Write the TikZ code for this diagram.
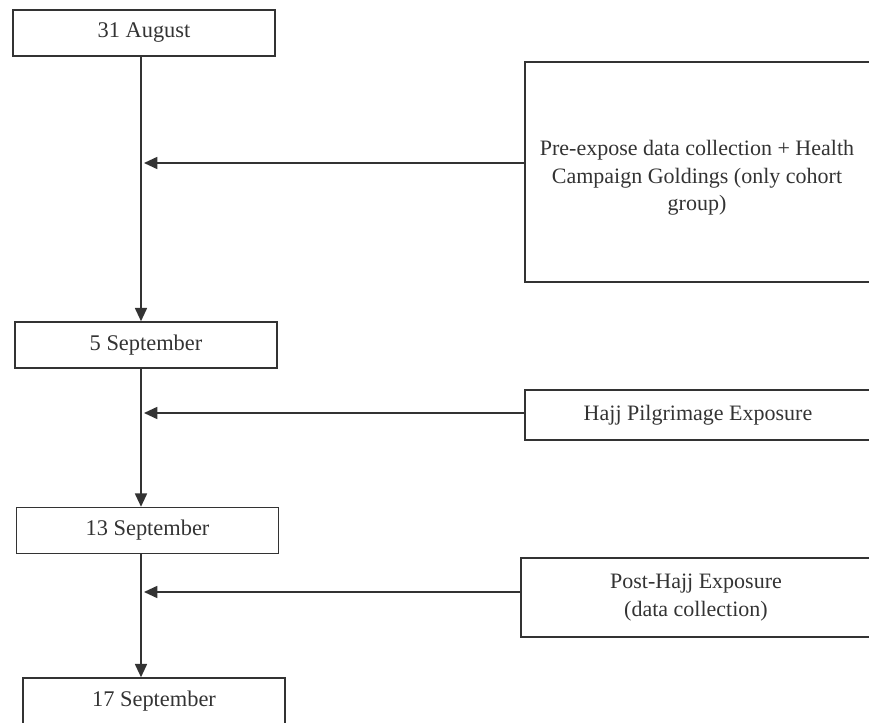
\documentclass[tikz,border=0pt]{standalone}
\usepackage{fontspec}
\usepackage{xcolor}
\usepackage{tikz}
\usetikzlibrary{arrows.meta}
\setmainfont{Liberation Serif}
\definecolor{scheme}{rgb}{0.2,0.2,0.2}

\begin{document}
\begin{tikzpicture}[x=0.75pt,y=-0.75pt,
		datebox/.style={draw=scheme,line width=1.1pt,minimum width=262*0.75pt,minimum height=46*0.75pt,inner sep=0pt,text=scheme,font=\fontsize{16.8}{20.6}\selectfont},
		eventbox/.style={draw=scheme,line width=1.1pt,inner sep=0pt,align=center,text=scheme,font=\fontsize{16.5}{20.6}\selectfont},
		flow/.style={draw=scheme,line width=1.3pt,-{Triangle[length=10pt,width=9pt]}}]
				\useasboundingbox (0,0) rectangle (869,723);
				\clip (0,0) rectangle (869,723);
				\coordinate (sp) at (141,0);%spine
				\coordinate (t1) at (144,163);
				\coordinate (t2) at (144,413);
				\coordinate (t3) at (144,592);
				\node[datebox] (d1) at (144,33) {31 August};
				\node[datebox] (d2) at (146,345) {5 September};
				\node[datebox] (d3) at (147.5,530.5) {13 September};
				\node[datebox] (d4) at (154,701) {17 September};
				\node[eventbox,minimum width=346*0.75pt,minimum height=220*0.75pt] (e1) at (698,172) {};
				\node[eventbox,draw=none] (e1t) at (697,178) {Pre-expose data collection + Health\\Campaign Goldings (only cohort\\group)};
				\node[eventbox,minimum width=346*0.75pt,minimum height=50*0.75pt] (e2) at (698,415) {Hajj Pilgrimage Exposure};
				\node[eventbox,minimum width=350*0.75pt,minimum height=79*0.75pt] (e3) at (696,597.5) {Post-Hajj Exposure\\(data collection)};
				
				\draw[flow] (d1.south -| sp) -- (d2.north -| sp);
				\draw[flow] (d2.south -| sp) -- (d3.north -| sp);
				\draw[flow] (d3.south -| sp) -- (d4.north -| sp);
				\draw[flow] (e1.west |- t1) -- (t1);
				\draw[flow] (e2.west |- t2) -- (t2);
				\draw[flow] (e3.west |- t3) -- (t3);
			\end{tikzpicture}
\end{document}
